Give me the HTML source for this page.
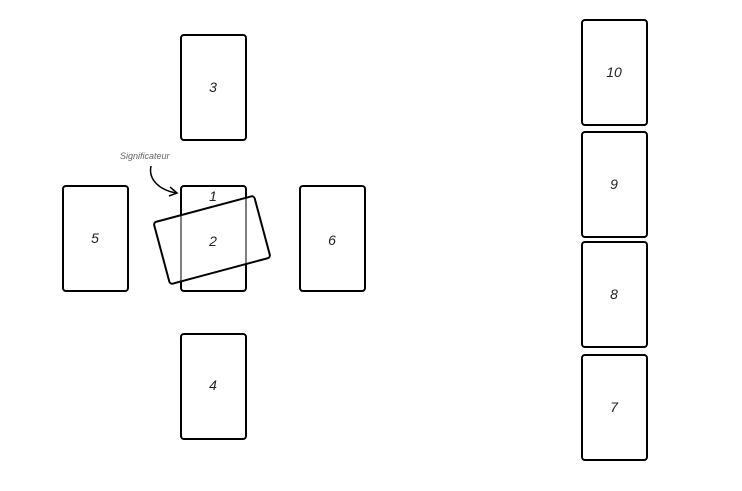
<html><body style="margin:0;background:#fff">
<svg width="742" height="491" xmlns="http://www.w3.org/2000/svg" style="font-family:'Liberation Sans',sans-serif">
<g fill="none" stroke="#000" stroke-width="2">
<rect x="181" y="35" width="65" height="105" rx="3"/>
<rect x="63" y="186" width="65" height="105" rx="3"/>
<rect x="181" y="186" width="65" height="105" rx="3"/>
<rect x="300" y="186" width="65" height="105" rx="3"/>
<rect x="181" y="334" width="65" height="105" rx="3"/>
<rect x="582" y="20" width="65" height="105" rx="3"/>
<rect x="582" y="132" width="65" height="105" rx="3"/>
<rect x="582" y="242" width="65" height="105" rx="3"/>
<rect x="582" y="355" width="65" height="105" rx="3"/>
</g>
<rect x="160" y="208" width="104" height="64" rx="3" transform="rotate(-15 212 240)" fill="rgba(255,255,255,0.5)" stroke="#000" stroke-width="2"/>
<path d="M151 166 C148 180 160 190 176 193" fill="none" stroke="#000" stroke-width="1.5"/>
<path d="M170 187 L177 193 L169 196" fill="none" stroke="#000" stroke-width="1.5"/>
<g font-size="14" font-style="italic" text-anchor="middle" fill="#222">
<text x="213" y="92">3</text><text x="95" y="243">5</text><text x="213" y="201">1</text>
<text x="213" y="246">2</text><text x="332" y="245">6</text><text x="213" y="390">4</text>
<text x="614" y="77">10</text><text x="614" y="189">9</text><text x="614" y="299">8</text><text x="614" y="412">7</text>
</g>
<text x="120" y="159" font-size="9" font-style="italic" fill="#666">Significateur</text>
</svg>
</body></html>
